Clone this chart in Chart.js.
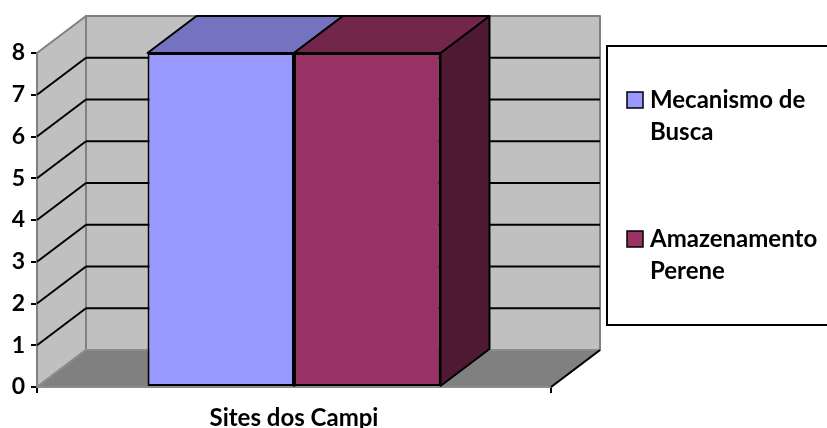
<!DOCTYPE html>
<html>
<head>
<meta charset="utf-8">
<script src="https://cdn.jsdelivr.net/npm/chart.js@4.4.0/dist/chart.umd.min.js"></script>
<style>
  html, body { margin: 0; padding: 0; background: #fff; }
  #wrap { width: 827px; height: 428px; position: relative; }
</style>
</head>
<body>
<div id="wrap"><canvas id="chart"></canvas></div>
<script>
// data
const categories = ["Sites dos Campi"]
const seriesNames = ["Mecanismo de Busca", "Amazenamento Perene"]
const mecanismoBusca = [8]
const amazenamentoPerene = [8]
const yTicks = [0, 1, 2, 3, 4, 5, 6, 7, 8]

// styles for the fake 3D look
const frontColors = ["#9999ff", "#993366"]
const topColors = ["#7373bf", "#73264c"]
const sideColors = ["#5c5c99", "#4d1933"]
const depth = { x: 49, y: -37 }
const font = "Lato, 'Open Sans', sans-serif"

function poly(ctx, pts, fill, stroke, lw) {
  ctx.beginPath()
  ctx.moveTo(pts[0][0], pts[0][1])
  for (let i = 1; i < pts.length; i++) ctx.lineTo(pts[i][0], pts[i][1])
  ctx.closePath()
  if (fill) { ctx.fillStyle = fill; ctx.fill() }
  if (stroke) { ctx.strokeStyle = stroke; ctx.lineWidth = lw || 1; ctx.stroke() }
}

function line(ctx, x1, y1, x2, y2, color, lw) {
  ctx.beginPath()
  ctx.moveTo(x1, y1)
  ctx.lineTo(x2, y2)
  ctx.strokeStyle = color
  ctx.lineWidth = lw
  ctx.stroke()
}

// walls, floor, grid and bar tops/sides drawn before the bar fronts
const box3d = {
  id: "box3d",
  beforeDatasetsDraw(chart) {
    const { ctx, chartArea: a, scales } = chart
    const yS = scales.y
    const dx = depth.x, dy = depth.y
    const y0 = yS.getPixelForValue(yTicks[0])
    const yT = yS.getPixelForValue(yTicks[yTicks.length - 1])
    ctx.save()
    ctx.lineJoin = "round"
    // back wall
    poly(ctx, [[a.left + dx, yT + dy], [a.right + dx, yT + dy], [a.right + dx, y0 + dy], [a.left + dx, y0 + dy]], "#c0c0c0", "#808080", 2)
    // left wall
    poly(ctx, [[a.left, y0], [a.left, yT], [a.left + dx, yT + dy], [a.left + dx, y0 + dy]], "#c0c0c0", "#808080", 2)
    // floor
    poly(ctx, [[a.left, y0], [a.right, y0], [a.right + dx, y0 + dy], [a.left + dx, y0 + dy]], "#808080", "#8c8c8c", 2)
    line(ctx, a.right, y0, a.right + dx, y0 + dy, "#000", 2)
    // grid lines on the walls
    yTicks.slice(1, -1).forEach(v => {
      const py = yS.getPixelForValue(v)
      line(ctx, a.left, py, a.left + dx, py + dy, "#000", 2)
      line(ctx, a.left + dx, py + dy, a.right + dx, py + dy, "#000", 2)
    })
    // bar tops and sides
    chart.data.datasets.forEach((ds, di) => {
      chart.getDatasetMeta(di).data.forEach(bar => {
        const l = bar.x - bar.width / 2, r = bar.x + bar.width / 2
        const t = bar.y, b = bar.base
        poly(ctx, [[r, t], [r + dx, t + dy], [r + dx, b + dy], [r, b]], sideColors[di], "#000", 2)
        poly(ctx, [[l, t], [r, t], [r + dx, t + dy], [l + dx, t + dy]], topColors[di], "#000", 2)
      })
    })
    ctx.restore()
  },
  afterDraw(chart) {
    // legend box on the right
    const ctx = chart.ctx
    ctx.save()
    ctx.strokeStyle = "#000"
    ctx.lineWidth = 2
    ctx.fillStyle = "#fff"
    ctx.fillRect(607, 46, 240, 279)
    ctx.strokeRect(607, 46, 240, 279)
    ctx.font = "bold 24px " + font
    ctx.textBaseline = "middle"
    const rows = [100, 239]
    chart.data.datasets.forEach((ds, di) => {
      const cy = rows[di]
      ctx.fillStyle = frontColors[di]
      ctx.fillRect(627, cy - 8, 16, 16)
      ctx.lineWidth = 1.5
      ctx.strokeStyle = "#000"
      ctx.strokeRect(627, cy - 8, 16, 16)
      const cut = ds.label.lastIndexOf(" ")
      const lines = [ds.label.slice(0, cut), ds.label.slice(cut + 1)]
      ctx.fillStyle = "#000"
      lines.forEach((s, k) => ctx.fillText(s, 650, cy + k * 32))
    })
    ctx.restore()
  }
}

new Chart(document.getElementById("chart"), {
  type: "bar",
  data: {
    labels: categories,
    datasets: [
      {
        label: seriesNames[0],
        data: mecanismoBusca,
        backgroundColor: frontColors[0],
        borderColor: "#000",
        borderWidth: 2,
        borderSkipped: false,
      },
      {
        label: seriesNames[1],
        data: amazenamentoPerene,
        backgroundColor: frontColors[1],
        borderColor: "#000",
        borderWidth: 2,
        borderSkipped: false,
      },
    ],
  },
  options: {
    responsive: true,
    maintainAspectRatio: false,
    animation: false,
    layout: { padding: { top: 53, right: 276, left: 0, bottom: 0 } },
    datasets: { bar: { categoryPercentage: 0.57, barPercentage: 1 } },
    plugins: { legend: { display: false }, tooltip: { enabled: false } },
    scales: {
      x: {
        z: 1,
        afterFit(scale) { scale.height = 41 },
        grid: { drawOnChartArea: false, drawTicks: true, tickLength: 6, color: "#000", lineWidth: 2 },
        border: { display: true, color: "#000", width: 2 },
        ticks: { color: "#000", padding: 11, font: { family: font, size: 24, weight: "bold" } },
      },
      y: {
        z: 1,
        min: yTicks[0],
        max: yTicks[yTicks.length - 1],
        afterFit(scale) { scale.width = 37 },
        afterBuildTicks(scale) { scale.ticks = yTicks.map(v => ({ value: v })) },
        grid: { drawOnChartArea: false, drawTicks: true, tickLength: 6, color: "#000", lineWidth: 2 },
        border: { display: true, color: "#000", width: 2 },
        ticks: { color: "#000", padding: 6, font: { family: font, size: 23, weight: "bold" } },
      },
    },
  },
  plugins: [box3d],
})
</script>
</body>
</html>
